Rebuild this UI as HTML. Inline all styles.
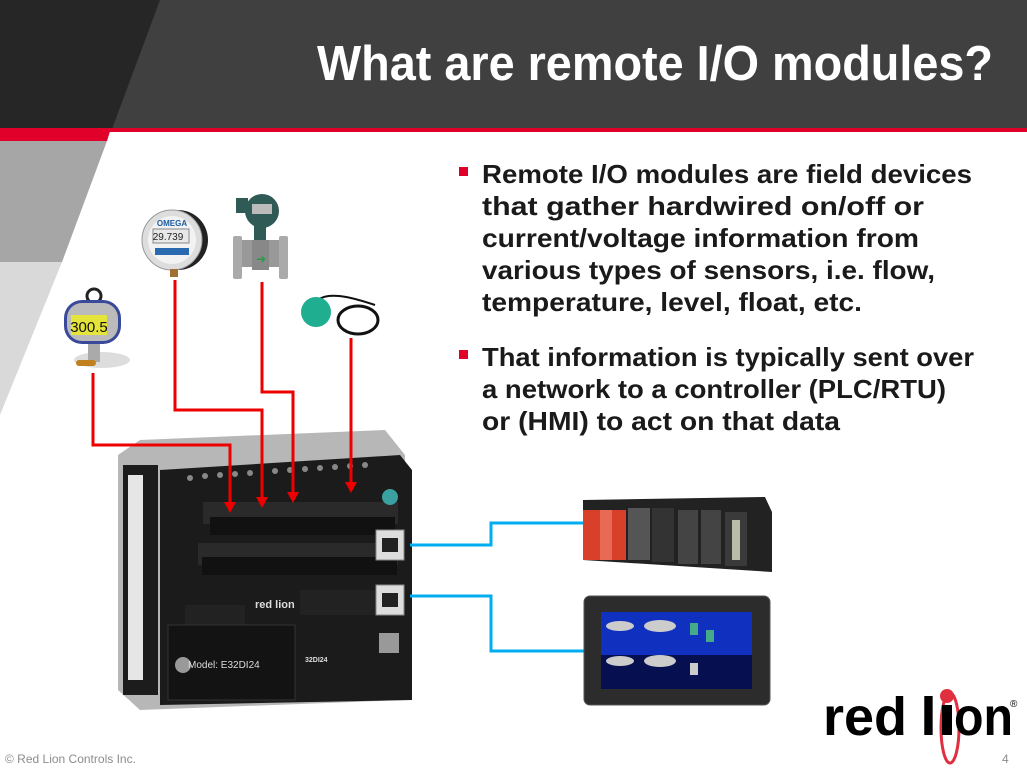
<!DOCTYPE html>
<html><head><meta charset="utf-8"><style>
html,body{margin:0;padding:0;width:1027px;height:771px;overflow:hidden;background:#fff}
svg{display:block}
</style></head><body>
<svg width="1027" height="771" viewBox="0 0 1027 771" xmlns="http://www.w3.org/2000/svg" font-family="'Liberation Sans', sans-serif">
<rect x="0" y="0" width="1027" height="129" fill="#404040"/>
<polygon points="0,0 160,0 112,129 0,129" fill="#262626"/>
<rect x="0" y="128" width="1027" height="4" fill="#e0002a"/>
<polygon points="0,128 111,128 107,141 0,141" fill="#e0002a"/>
<polygon points="0,141 107,141 62,262 0,262" fill="#a6a6a6"/>
<polygon points="0,262 62,262 0,415" fill="#d9d9d9"/>
<text x="993" y="80" text-anchor="end" fill="#fff" font-size="49" font-weight="bold" textLength="676" lengthAdjust="spacingAndGlyphs">What are remote I/O modules?</text>

<g fill="#1a1a1a" font-size="26" font-weight="bold">
<rect x="459" y="167" width="9" height="9" fill="#e0002a"/>
<text x="482" y="183" textLength="490" lengthAdjust="spacingAndGlyphs">Remote I/O modules are field devices</text>
<text x="482" y="215" textLength="442" lengthAdjust="spacingAndGlyphs">that gather hardwired on/off or</text>
<text x="482" y="247" textLength="437" lengthAdjust="spacingAndGlyphs">current/voltage information from</text>
<text x="482" y="279" textLength="453" lengthAdjust="spacingAndGlyphs">various types of sensors, i.e. flow,</text>
<text x="482" y="311" textLength="380" lengthAdjust="spacingAndGlyphs">temperature, level, float, etc.</text>
<rect x="459" y="350" width="9" height="9" fill="#e0002a"/>
<text x="482" y="366" textLength="492" lengthAdjust="spacingAndGlyphs">That information is typically sent over</text>
<text x="482" y="398" textLength="464" lengthAdjust="spacingAndGlyphs">a network to a controller (PLC/RTU)</text>
<text x="482" y="430" textLength="358" lengthAdjust="spacingAndGlyphs">or (HMI) to act on that data</text>
</g>

<!-- sensors -->
<g>
<ellipse cx="102" cy="360" rx="28" ry="8" fill="#ddd"/>
<rect x="88" y="340" width="12" height="22" fill="#aaa"/>
<rect x="76" y="360" width="20" height="6" rx="3" fill="#c08020"/>
<circle cx="94" cy="296" r="7" fill="none" stroke="#222" stroke-width="3"/>
<rect x="64" y="300" width="57" height="44" rx="18" fill="#3a4a9a"/>
<rect x="67" y="303" width="51" height="38" rx="15" fill="#bbb"/>
<rect x="71" y="315" width="36" height="20" fill="#e4e43a"/>
<text x="89" y="332" font-size="15" text-anchor="middle" fill="#111">300.5</text>
</g>
<g>
<circle cx="178" cy="240" r="30" fill="#222"/>
<circle cx="172" cy="240" r="30" fill="#ddd" stroke="#999"/>
<circle cx="172" cy="240" r="24" fill="#f2f2f2"/>
<text x="172" y="226" font-size="8" font-weight="bold" text-anchor="middle" fill="#1a5aa0">OMEGA</text>
<rect x="153" y="229" width="36" height="14" fill="#e8e8e8" stroke="#888"/>
<text x="168" y="240" font-size="10" text-anchor="middle" fill="#222">29.739</text>
<rect x="155" y="248" width="34" height="7" fill="#2a6ab0"/>
<rect x="170" y="269" width="8" height="8" fill="#a07030"/>
</g>
<g>
<rect x="234" y="240" width="52" height="27" fill="#999"/>
<rect x="233" y="236" width="9" height="43" rx="2" fill="#aaa"/>
<rect x="279" y="236" width="9" height="43" rx="2" fill="#aaa"/>
<rect x="252" y="240" width="17" height="30" fill="#888"/>
<text x="261" y="263" font-size="12" text-anchor="middle" fill="#2a9a4a">➜</text>
<rect x="254" y="225" width="12" height="15" fill="#2f5a55"/>
<circle cx="262" cy="211" r="17" fill="#2f5a55"/>
<rect x="236" y="198" width="12" height="15" fill="#2f5a55"/>
<rect x="252" y="204" width="20" height="10" fill="#bbb"/>
</g>
<g>
<path d="M318,300 C330,290 360,300 375,305" stroke="#111" stroke-width="2" fill="none"/>
<ellipse cx="358" cy="320" rx="20" ry="14" fill="none" stroke="#111" stroke-width="3"/>
<circle cx="316" cy="312" r="15" fill="#1fae8f"/>
</g>

<!-- module -->
<g>
<polygon points="140,440 385,430 405,455 405,700 140,710 118,690 118,455" fill="#b7b7b7"/>
<rect x="123" y="465" width="35" height="230" fill="#1c1c1c"/>
<rect x="128" y="475" width="15" height="205" fill="#e6e6e6"/>
<polygon points="160,470 400,455 412,470 412,700 160,705" fill="#1b1b1b"/>
<g fill="#888"><circle cx="190" cy="478" r="3"/><circle cx="205" cy="476" r="3"/><circle cx="220" cy="475" r="3"/><circle cx="235" cy="474" r="3"/><circle cx="250" cy="473" r="3"/><circle cx="275" cy="471" r="3"/><circle cx="290" cy="470" r="3"/><circle cx="305" cy="469" r="3"/><circle cx="320" cy="468" r="3"/><circle cx="335" cy="467" r="3"/><circle cx="350" cy="466" r="3"/><circle cx="365" cy="465" r="3"/></g>
<rect x="203" y="502" width="195" height="22" fill="#2a2a2a"/>
<rect x="210" y="517" width="185" height="18" fill="#111"/>
<rect x="198" y="543" width="200" height="22" fill="#2a2a2a"/>
<rect x="202" y="557" width="195" height="18" fill="#111"/>
<rect x="185" y="605" width="60" height="25" fill="#222"/>
<rect x="300" y="590" width="78" height="25" fill="#222"/>
<rect x="168" y="625" width="127" height="75" fill="#131313" stroke="#333"/>
<circle cx="183" cy="665" r="8" fill="#999"/>
<text x="188" y="668" font-size="10" fill="#ddd">Model: E32DI24</text>
<text x="255" y="608" font-size="11" font-weight="bold" fill="#ddd">red lion</text>
<text x="305" y="662" font-size="7" font-weight="bold" fill="#ddd">32DI24</text>
<rect x="376" y="530" width="28" height="30" fill="#ddd" stroke="#888"/>
<rect x="382" y="538" width="16" height="14" fill="#222"/>
<rect x="376" y="585" width="28" height="30" fill="#ddd" stroke="#888"/>
<rect x="382" y="593" width="16" height="14" fill="#222"/>
<rect x="379" y="633" width="20" height="20" fill="#999"/>
<circle cx="390" cy="497" r="8" fill="#3aa0a0"/>
</g>

<!-- red wires -->
<g stroke="#ee0000" stroke-width="3" fill="none">
<polyline points="93,373 93,445 230,445 230,505"/>
<polyline points="175,280 175,410 262,410 262,500"/>
<polyline points="262,282 262,392 293,392 293,495"/>
<polyline points="351,338 351,485"/>
</g>
<g fill="#ee0000">
<polygon points="224,502 236,502 230,513"/>
<polygon points="256,497 268,497 262,508"/>
<polygon points="287,492 299,492 293,503"/>
<polygon points="345,482 357,482 351,493"/>
</g>

<!-- blue wires -->
<g stroke="#00aeef" stroke-width="3" fill="none">
<polyline points="410,545 491,545 491,523 584,523"/>
<polyline points="410,596 491,596 491,651 584,651"/>
</g>

<!-- PLC -->
<g>
<polygon points="583,500 765,497 772,512 772,572 583,560" fill="#222"/>
<rect x="583" y="510" width="43" height="50" fill="#d8402a"/>
<rect x="600" y="510" width="12" height="50" fill="#e86a55"/>
<rect x="628" y="508" width="22" height="52" fill="#555"/>
<rect x="652" y="508" width="22" height="54" fill="#333"/>
<rect x="678" y="510" width="20" height="54" fill="#444"/>
<rect x="701" y="510" width="20" height="54" fill="#444"/>
<rect x="725" y="512" width="22" height="54" fill="#3a3a3a"/>
<rect x="732" y="520" width="8" height="40" fill="#bba"/>
</g>
<!-- HMI -->
<rect x="584" y="596" width="186" height="109" rx="6" fill="#2c2c2c" stroke="#555"/>
<rect x="601" y="612" width="151" height="77" fill="#1030c0"/>
<rect x="601" y="655" width="151" height="34" fill="#061050"/>
<g fill="#ccc">
<ellipse cx="620" cy="626" rx="14" ry="5"/><ellipse cx="660" cy="626" rx="16" ry="6"/>
<ellipse cx="620" cy="661" rx="14" ry="5"/><ellipse cx="660" cy="661" rx="16" ry="6"/>
<rect x="690" y="623" width="8" height="12" fill="#4a8"/><rect x="706" y="630" width="8" height="12" fill="#4a8"/>
<rect x="690" y="663" width="8" height="12"/>
</g>

<!-- logo -->
<g font-size="54" font-weight="bold" fill="#000">
<text x="823" y="735" textLength="84" lengthAdjust="spacingAndGlyphs">red</text>
<text x="920" y="735" textLength="17" lengthAdjust="spacingAndGlyphs">l</text>
<ellipse cx="950" cy="728" rx="9" ry="35" fill="none" stroke="#e03040" stroke-width="3"/>
<rect x="942" y="705" width="10" height="30" fill="#000"/>
<circle cx="947" cy="696" r="7" fill="#e03040"/>
<text x="954" y="735" textLength="59" lengthAdjust="spacingAndGlyphs">on</text>
</g>
<text x="1010" y="707" font-size="10" fill="#000">®</text>

<text x="5" y="763" font-size="12" fill="#8c8c8c">© Red Lion Controls Inc.</text>
<text x="1002" y="763" font-size="12" fill="#8c8c8c">4</text>
</svg>
</body></html>
